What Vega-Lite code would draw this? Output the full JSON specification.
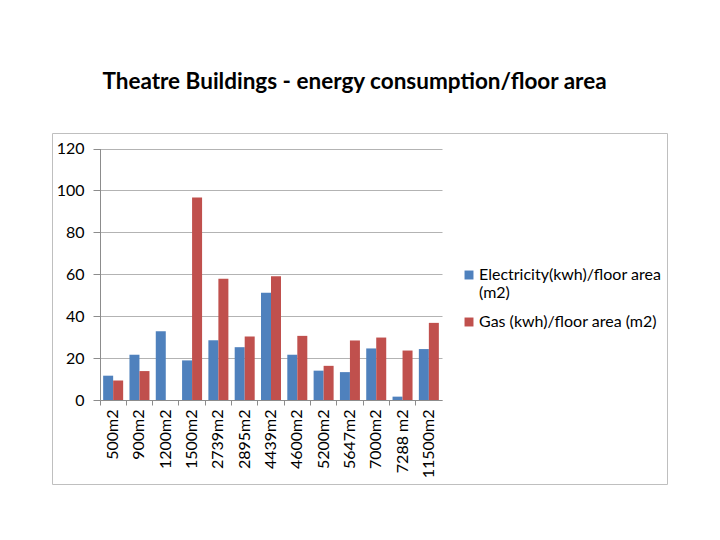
{
  "$schema": "https://vega.github.io/schema/vega-lite/v6.json",
  "autosize": {"type": "none"},
  "padding": {"left": 52, "top": 133, "right": 53, "bottom": 56},
  "width": 615,
  "height": 351,
  "background": "white",
  "title": {
    "text": "Theatre Buildings - energy consumption/floor area",
    "font": "Lato",
    "fontSize": 22.5,
    "fontWeight": "bold",
    "color": "#000000",
    "anchor": "middle",
    "dx": -5,
    "offset": 40
  },
  "data": {
    "values": [
      {"area": "500m2", "series": "Electricity(kwh)/floor area (m2)", "value": 11.6},
      {"area": "500m2", "series": "Gas (kwh)/floor area (m2)", "value": 9.3},
      {"area": "900m2", "series": "Electricity(kwh)/floor area (m2)", "value": 21.6},
      {"area": "900m2", "series": "Gas (kwh)/floor area (m2)", "value": 13.8},
      {"area": "1200m2", "series": "Electricity(kwh)/floor area (m2)", "value": 32.8},
      {"area": "1200m2", "series": "Gas (kwh)/floor area (m2)", "value": 0},
      {"area": "1500m2", "series": "Electricity(kwh)/floor area (m2)", "value": 18.9},
      {"area": "1500m2", "series": "Gas (kwh)/floor area (m2)", "value": 96.6},
      {"area": "2739m2", "series": "Electricity(kwh)/floor area (m2)", "value": 28.5},
      {"area": "2739m2", "series": "Gas (kwh)/floor area (m2)", "value": 57.8},
      {"area": "2895m2", "series": "Electricity(kwh)/floor area (m2)", "value": 25.2},
      {"area": "2895m2", "series": "Gas (kwh)/floor area (m2)", "value": 30.3},
      {"area": "4439m2", "series": "Electricity(kwh)/floor area (m2)", "value": 51.2},
      {"area": "4439m2", "series": "Gas (kwh)/floor area (m2)", "value": 59.0},
      {"area": "4600m2", "series": "Electricity(kwh)/floor area (m2)", "value": 21.6},
      {"area": "4600m2", "series": "Gas (kwh)/floor area (m2)", "value": 30.6},
      {"area": "5200m2", "series": "Electricity(kwh)/floor area (m2)", "value": 14.0},
      {"area": "5200m2", "series": "Gas (kwh)/floor area (m2)", "value": 16.3},
      {"area": "5647m2", "series": "Electricity(kwh)/floor area (m2)", "value": 13.3},
      {"area": "5647m2", "series": "Gas (kwh)/floor area (m2)", "value": 28.4},
      {"area": "7000m2", "series": "Electricity(kwh)/floor area (m2)", "value": 24.6},
      {"area": "7000m2", "series": "Gas (kwh)/floor area (m2)", "value": 29.8},
      {"area": "7288 m2", "series": "Electricity(kwh)/floor area (m2)", "value": 1.6},
      {"area": "7288 m2", "series": "Gas (kwh)/floor area (m2)", "value": 23.6},
      {"area": "11500m2", "series": "Electricity(kwh)/floor area (m2)", "value": 24.3},
      {"area": "11500m2", "series": "Gas (kwh)/floor area (m2)", "value": 36.8}
    ]
  },
  "mark": {"type": "bar"},
  "encoding": {
    "x": {
      "field": "area",
      "type": "nominal",
      "sort": null,
      "title": null,
      "scale": {"range": [48, 390], "paddingInner": 0, "paddingOuter": 0},
      "axis": {
        "offset": -84,
        "bandPosition": 0,
        "labelAngle": -90,
        "labelFont": "Lato",
        "labelFontSize": 16,
        "labelColor": "#000000",
        "labelPadding": 4,
        "tickSize": 5,
        "tickColor": "#8c8c8c",
        "domainColor": "#8c8c8c",
        "grid": false
      }
    },
    "xOffset": {
      "field": "series",
      "type": "nominal",
      "scale": {"paddingInner": 0, "paddingOuter": 0.315}
    },
    "y": {
      "field": "value",
      "type": "quantitative",
      "title": null,
      "scale": {"domain": [0, 120], "range": [267, 15.5], "nice": false},
      "axis": {
        "offset": -48,
        "values": [0, 20, 40, 60, 80, 100, 120],
        "labelFont": "Lato",
        "labelFontSize": 16,
        "labelColor": "#000000",
        "labelPadding": 9,
        "tickSize": 7,
        "tickColor": "#8c8c8c",
        "domainColor": "#8c8c8c",
        "grid": true,
        "gridColor": "#b3b3b3"
      }
    },
    "color": {
      "field": "series",
      "type": "nominal",
      "title": null,
      "scale": {
        "domain": ["Electricity(kwh)/floor area (m2)", "Gas (kwh)/floor area (m2)"],
        "range": ["#4F81BD", "#C0504D"]
      },
      "legend": {
        "orient": "none",
        "legendX": 409,
        "legendY": 134,
        "symbolType": "square",
        "symbolSize": 80,
        "symbolStrokeWidth": 0,
        "labelFont": "Lato",
        "labelFontSize": 16,
        "labelColor": "#000000",
        "labelLimit": 300,
        "labelOffset": 2,
        "rowPadding": 13,
        "labelExpr": "datum.label == 'Electricity(kwh)/floor area (m2)' ? ['Electricity(kwh)/floor area', '(m2)'] : datum.label"
      }
    }
  },
  "config": {
    "view": {"stroke": "#bfbfbf", "strokeWidth": 1}
  }
}
